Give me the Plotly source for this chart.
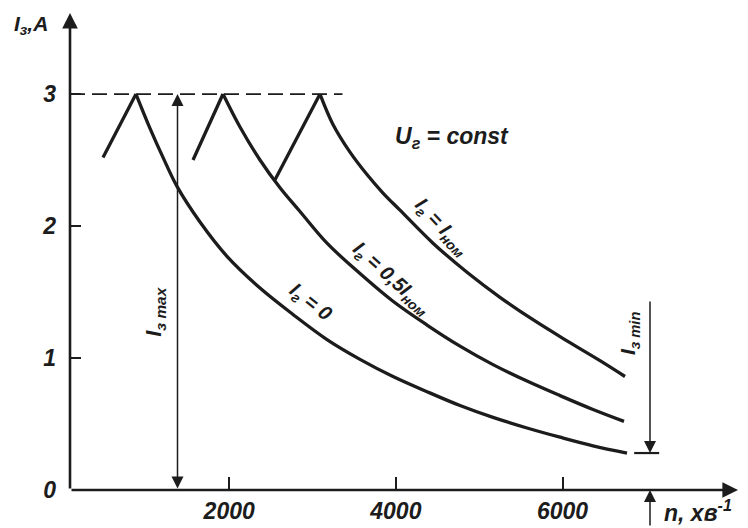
import plotly.graph_objects as go

# ---- data ----
y_ticks = [0, 1, 2, 3]
x_ticks = [2000, 4000, 6000]
x_tick_labels = ["2000", "4000", "6000"]

# I_r = 0
rise_n_0 = [486, 882]
rise_i_0 = [2.52, 3.0]
fall_n_0 = [882, 1050, 1206, 1374, 1650, 1974, 2370, 2766, 3174, 3570, 3966, 4374, 4770, 5166, 5574, 5970, 6366, 6774]
fall_i_0 = [3.0, 2.74, 2.52, 2.30, 2.03, 1.77, 1.53, 1.33, 1.14, 0.99, 0.86, 0.745, 0.64, 0.55, 0.47, 0.40, 0.335, 0.28]

# I_r = 0.5 I_nom
rise_n_05 = [1566, 1926]
rise_i_05 = [2.50, 3.0]
fall_n_05 = [1926, 2130, 2370, 2610, 2850, 3174, 3570, 3966, 4374, 4770, 5166, 5574, 5970, 6366, 6738]
fall_i_05 = [3.0, 2.75, 2.50, 2.29, 2.11, 1.87, 1.64, 1.43, 1.25, 1.09, 0.95, 0.825, 0.715, 0.61, 0.52]

# I_r = I_nom
rise_n_1 = [2550, 3090]
rise_i_1 = [2.35, 3.0]
fall_n_1 = [3090, 3246, 3450, 3654, 3846, 4050, 4446, 4854, 5250, 5646, 6054, 6450, 6750]
fall_i_1 = [3.0, 2.77, 2.56, 2.39, 2.25, 2.12, 1.87, 1.65, 1.46, 1.29, 1.13, 0.98, 0.86]

i_max = 3.0
i_min = 0.28
n_max_marker = 1380
n_min_marker = 7050
dash_end_n = 3360

X0, X1 = 90, 8106
Y0, Y1 = 0, 3.614

INK = "#1c1c1c"
FONT = "Liberation Sans, Arial, sans-serif"

fig = go.Figure()

def curve(n, i, spline):
    fig.add_trace(go.Scatter(
        x=n, y=i, mode="lines",
        line=dict(color=INK, width=3.3,
                  shape="spline" if spline else "linear", smoothing=1.0),
        hoverinfo="skip", showlegend=False))

for rn, ri, fn, fi in [(rise_n_0, rise_i_0, fall_n_0, fall_i_0),
                       (rise_n_05, rise_i_05, fall_n_05, fall_i_05),
                       (rise_n_1, rise_i_1, fall_n_1, fall_i_1)]:
    curve(rn, ri, False)
    curve(fn, fi, True)

# dashed limit line at I_max
fig.add_trace(go.Scatter(x=[X0, dash_end_n], y=[i_max, i_max], mode="lines",
                         line=dict(color=INK, width=1.8, dash="15px,7px"),
                         hoverinfo="skip", showlegend=False))
# short extension at I_min
fig.add_trace(go.Scatter(x=[6860, 7160], y=[i_min, i_min], mode="lines",
                         line=dict(color=INK, width=2.2),
                         hoverinfo="skip", showlegend=False))

ann = []
def arrow(x, y, ax, ay, w=1.6, head=2, size=1.3, side="end", axref="x", ayref="y"):
    ann.append(dict(x=x, y=y, ax=ax, ay=ay, xref="x", yref="y", axref=axref, ayref=ayref,
                    text="", showarrow=True, arrowhead=head, startarrowhead=head,
                    arrowsize=size, startarrowsize=size, arrowwidth=w,
                    arrowcolor=INK, arrowside=side, standoff=0, startstandoff=0))

# axes with arrows
arrow(X0, Y1, X0, 0, w=2.6, size=1.2)
arrow(X1, 0, X0, 0, w=2.6, size=1.2)
# I_max dimension arrow
arrow(n_max_marker, i_max, n_max_marker, 0, w=1.5, size=1.6, side="end+start")
# I_min dimension arrows
arrow(n_min_marker, i_min, n_min_marker, 1.44, w=1.5, size=1.6)
arrow(n_min_marker, 0, 0, 37, w=1.5, size=1.6, axref="pixel", ayref="pixel")

def label(text, x, y, size=20, angle=0, xref="x", yref="y", xanchor="center"):
    ann.append(dict(x=x, y=y, xref=xref, yref=yref, text=text, showarrow=False,
                    textangle=angle, xanchor=xanchor, yanchor="middle",
                    font=dict(family=FONT, size=size, color=INK, style="italic", weight="bold")))

label("<i>I</i><sub>з</sub>,<i>A</i>", -0.087, 0.975, size=21, xref="paper", yref="paper", xanchor="left")
label("<i>n</i>, хв<sup>-1</sup>", 0.886, -0.044, size=23, xref="paper", yref="paper", xanchor="left")
label("U<sub>г</sub> = const", 4674, 2.67, size=23)
label("I<sub>г</sub> = I<sub>ном</sub>", 4550, 1.99, size=20, angle=47)
label("I<sub>г</sub> = 0,5I<sub>ном</sub>", 3942, 1.602, size=20, angle=42)
label("I<sub>г</sub> = 0", 2970, 1.424, size=20, angle=38)
label("I<sub>з max</sub>", 1110, 1.35, size=22, angle=-90)
label("I<sub>з min</sub>", 6800, 1.19, size=21, angle=-90)

# the page body has an 8px margin, so the figure is 8px smaller on each axis
fig.update_layout(
    width=740, height=520,
    margin=dict(l=62, r=10, t=5, b=38, autoexpand=False),
    paper_bgcolor="white", plot_bgcolor="white",
    showlegend=False,
    annotations=ann,
    font=dict(family=FONT, color=INK, style="italic", weight="bold"),
    xaxis=dict(range=[X0, X1], showgrid=False, zeroline=False, showline=False,
               automargin=False,
               tickmode="array", tickvals=x_ticks, ticktext=x_tick_labels,
               ticks="inside", ticklen=13, tickwidth=1.8, tickcolor=INK,
               ticklabelstandoff=5,
               tickfont=dict(family=FONT, size=23, color=INK, style="italic", weight="bold")),
    yaxis=dict(range=[Y0, Y1], showgrid=False, zeroline=False, showline=False,
               automargin=False,
               tickmode="array", tickvals=y_ticks, ticktext=[str(v) for v in y_ticks],
               ticks="inside", ticklen=11, tickwidth=1.8, tickcolor=INK,
               ticklabelstandoff=13,
               tickfont=dict(family=FONT, size=23, color=INK, style="italic", weight="bold")),
)

fig.write_html("out.html")
